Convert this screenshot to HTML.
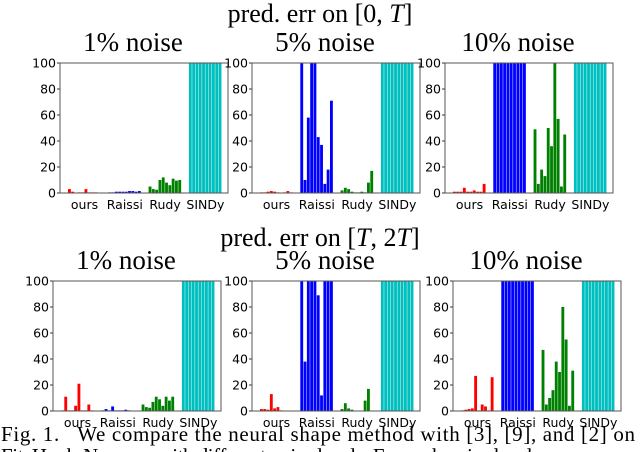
<!DOCTYPE html>
<html><head><meta charset="utf-8"><style>
html,body{margin:0;padding:0;background:#fff;overflow:hidden}
svg{display:block}
.t{font-family:"Liberation Serif",serif;fill:#000;white-space:pre}
.s{font-family:"DejaVu Sans","Liberation Sans",sans-serif;fill:#000}
</style></head><body>
<svg id="fig" width="640" height="452" viewBox="0 0 640 452">
<text class="t" x="320" y="22" font-size="26" text-anchor="middle">pred. err on [0, <tspan font-style="italic">T</tspan>]</text>
<text class="t" x="320" y="246" font-size="26" text-anchor="middle">pred. err on [<tspan font-style="italic">T</tspan>, 2<tspan font-style="italic">T</tspan>]</text>
<text class="t" x="1" y="441" font-size="21" textLength="634" lengthAdjust="spacing" xml:space="preserve">Fig. 1.   We compare the neural shape method with [3], [9], and [2] on</text>
<text class="t" x="1" y="463" font-size="21" textLength="560" lengthAdjust="spacing">FitzHugh-Nagumo with different noise levels. For each noise level we</text>
</svg>
<script>
const groups = ["ours","Raissi","Rudy","SINDy"];
const noiseLabels = ["1% noise","5% noise","10% noise"];
const yTicks = [0,20,40,60,80,100];
// Row 1: [0,T]
const r1n1 = [[3,1,0.3,0.5,0.5,3,0.5,0.5,0.5,0.3],[0.5,0.5,1,1,1,1,1.5,1.5,1,1.5],[5,3,2.5,10,12,8,6,11,9.5,10],[100,100,100,100,100,100,100,100,100,100]];
const r1n5 = [[0.5,0.5,1,1.5,1,0.5,0.3,0.5,1.5,0.5],[100,10,58,100,100,43,37,7,18,71],[2,4,3,1,0.5,0.5,1,0.5,8,17],[100,100,100,100,100,100,100,100,100,100]];
const r1n10 = [[1,1,1,4,1,1,2,1,1,7],[100,100,100,100,100,100,100,100,100,100],[49,7,18,13,50,36,100,57,5,45],[100,100,100,100,100,100,100,100,100,100]];
// Row 2: [T,2T]
const r2n1 = [[0.5,11,0.5,0.5,4,21,0.5,0.5,5,0.5],[0.5,1.5,0.5,3.5,0.5,0.5,0.5,1,0.5,0.3],[5,3,2.5,7,11,9,4,11,8,11],[100,100,100,100,100,100,100,100,100,100]];
const r2n5 = [[1.5,1.5,1,13,2,3,0.5,0.3,0.3,0.3],[100,38,100,100,100,89,12,100,100,100],[1.5,6,2,1,0.3,0.3,0.3,8,17,0.3],[100,100,100,100,100,100,100,100,100,100]];
const r2n10 = [[0.5,1,1.5,2,27,0.5,5,3.5,0.5,26],[100,100,100,100,100,100,100,100,100,100],[47,5,10,16,38,30,80,55,4,31],[100,100,100,100,100,100,100,100,100,100]];

const colors = ["#ff0000","#0000ff","#008000","#00bfbf"];
const svg = document.getElementById('fig');
const NS = "http://www.w3.org/2000/svg";
function mk(tag, attrs){const e=document.createElementNS(NS,tag);for(const k in attrs)e.setAttribute(k,attrs[k]);svg.appendChild(e);return e;}

const panels = [
 {d:r1n1,l:60,t:63,b:193,n:0,name:'r1-1pct'},
 {d:r1n5,l:252,t:63,b:193,n:1,name:'r1-5pct'},
 {d:r1n10,l:445,t:63,b:193,n:2,name:'r1-10pct'},
 {d:r2n1,l:53,t:281,b:411,n:0,name:'r2-1pct'},
 {d:r2n5,l:252,t:281,b:411,n:1,name:'r2-5pct'},
 {d:r2n10,l:453,t:281,b:411,n:2,name:'r2-10pct'}
];
const W = 168;
panels.forEach(p=>{
  const y = v => p.b - (Math.min(v,100)/100)*(p.b-p.t);
  const tt = mk('text',{class:'t',x:p.l+W/2-11,y:p.t-12,'font-size':27,'text-anchor':'middle'});
  tt.textContent = noiseLabels[p.n];
  
  
  p.d.forEach((vals,gi)=>{
    const gx = p.l + 8 + gi*40.3;
    const bw = 33/vals.length;
    vals.forEach((v,i)=>{
      const r = mk('rect',{x:gx+i*bw,y:y(v),width:bw-0.45,height:p.b-y(v),fill:colors[gi]});
      
      
    });
    const lb = mk('text',{class:'s',x:gx+16.5,y:p.b+16,'font-size':12.5,'text-anchor':'middle'});
    lb.textContent = groups[gi];
    
    
  });
  yTicks.forEach(v=>{
    const tk = mk('line',{x1:p.l-3,x2:p.l,y1:y(v),y2:y(v),stroke:'#000','stroke-width':0.8});
    
    
    const tl = mk('text',{class:'s',x:p.l-4,y:y(v)+4.5,'font-size':12.5,'text-anchor':'end'});
    tl.textContent = v;
    
    
  });
  const fr = mk('rect',{x:p.l,y:p.t,width:W,height:p.b-p.t,fill:'none',stroke:'#555','stroke-width':1});
  
  
});
</script>
</body></html>
